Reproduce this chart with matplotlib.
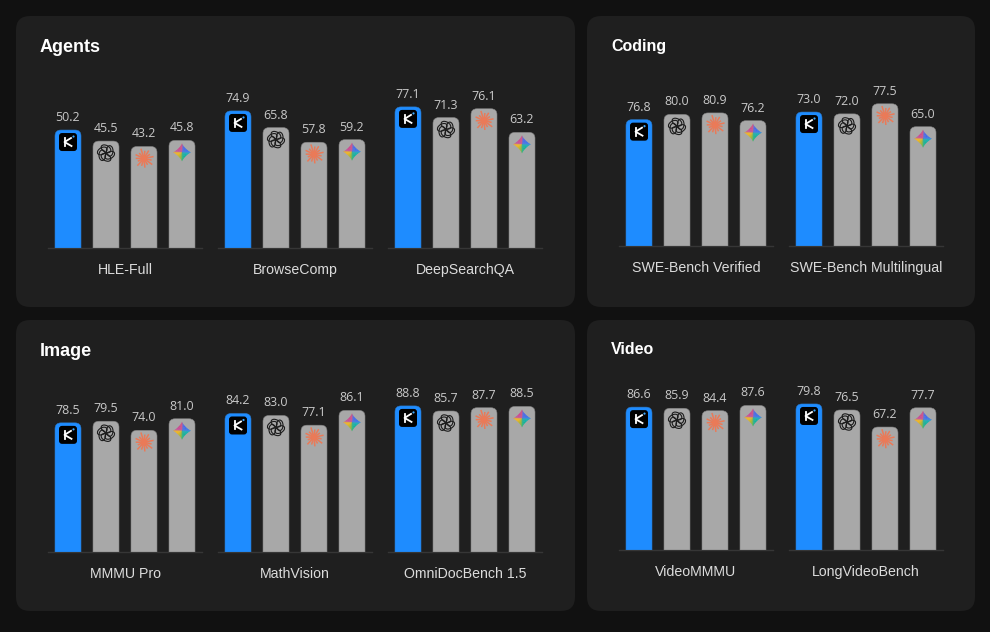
import matplotlib
matplotlib.use('Agg')
import matplotlib.pyplot as plt
import numpy as np
from matplotlib.patches import FancyBboxPatch, PathPatch, Circle, Ellipse, Polygon
from matplotlib.path import Path
from matplotlib.transforms import IdentityTransform

W, H = 990, 632

# valores por grupo: Kimi, OpenAI, Claude, Gemini
hle_full = [50.2, 45.5, 43.2, 45.8]
browsecomp = [74.9, 65.8, 57.8, 59.2]
deepsearchqa = [77.1, 71.3, 76.1, 63.2]
swe_verified = [76.8, 80.0, 80.9, 76.2]
swe_multi = [73.0, 72.0, 77.5, 65.0]
mmmu_pro = [78.5, 79.5, 74.0, 81.0]
mathvision = [84.2, 83.0, 77.1, 86.1]
omnidoc = [88.8, 85.7, 87.7, 88.5]
videommmu = [86.6, 85.9, 84.4, 87.6]
longvideo = [79.8, 76.5, 67.2, 77.7]

panel_titles = ['Agents', 'Coding', 'Image', 'Video']

BG = '#111111'
PANEL = '#1f1f1f'
BLUE = '#1e8cff'
GREY = '#a8a8a8'
EDGE = '#808080'
AXIS = '#363636'

fig = plt.figure(figsize=(W / 100, H / 100), dpi=100, facecolor=BG)
T = IdentityTransform()


def py(y):
    # pixel desde arriba -> pixel de display
    return H - y


def dibujar_panel(x0, y0, x1, y1, titulo, tx, ty, size):
    p = FancyBboxPatch((x0 + 14, py(y1) + 14), x1 - x0 - 28, y1 - y0 - 28,
                       boxstyle='round,pad=14,rounding_size=14',
                       fc=PANEL, ec='none', transform=T, zorder=0)
    fig.add_artist(p)
    fig.text(tx / W, py(ty) / H, titulo, color='white', fontsize=size,
             fontweight='bold', family='Liberation Sans', va='center', ha='left')


def barra_redonda(x0, x1, ytop, ybase, color, edge):
    r = 6
    verts = [(x0, ybase), (x0, ytop - r), (x0, ytop), (x0 + r, ytop), (x1 - r, ytop),
             (x1, ytop), (x1, ytop - r), (x1, ybase), (x0, ybase)]
    codes = [Path.MOVETO, Path.LINETO, Path.CURVE3, Path.CURVE3, Path.LINETO,
             Path.CURVE3, Path.CURVE3, Path.LINETO, Path.CLOSEPOLY]
    return PathPatch(Path(verts, codes), fc=color, ec=edge, lw=0.4, transform=T, zorder=3)


def icono_kimi(ax, cx, cy):
    s = 9
    ax.add_artist(FancyBboxPatch((cx - s + 3, cy - s + 3), 2 * s - 6, 2 * s - 6,
                                 boxstyle='round,pad=3,rounding_size=3', fc='black', ec='none',
                                 transform=T, zorder=5, clip_on=False))
    ax.plot([cx - 3.5, cx - 3.5], [cy - 4, cy + 4], color='white', lw=1.3, transform=T, zorder=6, clip_on=False)
    ax.plot([cx + 3, cx - 3.5, cx + 3.5], [cy + 4, cy, cy - 4], color='white', lw=1.3, transform=T, zorder=6, clip_on=False)
    ax.add_artist(Circle((cx + 5.5, cy + 5.5), 1.1, fc='#3fa9ff', ec='none', transform=T, zorder=6, clip_on=False))


def icono_openai(ax, cx, cy):
    for ang in range(0, 360, 60):
        a = np.radians(ang + 30)
        e = Ellipse((cx + 4.3 * np.cos(a), cy + 4.3 * np.sin(a)), 10.5, 6.6, angle=ang + 90,
                    fc='none', ec='#1c1c1c', lw=0.8, transform=T, zorder=5, clip_on=False)
        ax.add_artist(e)


def icono_claude(ax, cx, cy):
    largos = [9, 6.5, 8.5, 7, 9.5, 6.5, 8.5, 7.5, 6, 9, 7, 8.5, 6.5, 9.5, 7]
    for i, l in enumerate(largos):
        a = 2 * np.pi * i / len(largos) + 0.2
        ax.plot([cx, cx + l * np.cos(a)], [cy, cy + l * np.sin(a)], color='#ea7a58',
                lw=1.1, transform=T, zorder=5, clip_on=False)
    ax.add_artist(Circle((cx, cy), 3, fc='#ea7a58', ec='none', transform=T, zorder=5, clip_on=False))


def icono_gemini(ax, cx, cy):
    R = 9
    stops = np.array([0, 60, 90, 150, 180, 215, 270, 330, 360], dtype=float)
    rgb = np.array([[0.10, 0.50, 0.98], [0.30, 0.40, 0.92], [0.88, 0.25, 0.45], [0.78, 0.30, 0.62],
                    [0.98, 0.72, 0.10], [0.98, 0.72, 0.10], [0.12, 0.72, 0.38], [0.05, 0.70, 0.72],
                    [0.10, 0.50, 0.98]])
    for deg in range(0, 360, 6):
        t = np.radians(np.linspace(deg, deg + 7, 5))
        xs = cx + R * np.sign(np.cos(t)) * np.abs(np.cos(t)) ** 2.5
        ys = cy + R * np.sign(np.sin(t)) * np.abs(np.sin(t)) ** 2.5
        col = [np.interp(deg + 3, stops, rgb[:, k]) for k in range(3)]
        pts = np.column_stack([np.r_[cx, xs], np.r_[cy, ys]])
        ax.add_artist(Polygon(pts, fc=col, ec='none', lw=0, transform=T, zorder=5, clip_on=False))


iconos = [icono_kimi, icono_openai, icono_claude, icono_gemini]


def dibujar_grupo(xleft, ybase, nombre, valores, escala):
    # eje de 154 px de ancho; la escala (px por unidad) cambia por grupo
    alto = 170
    ax = fig.add_axes([xleft / W, py(ybase) / H, 154 / W, alto / H])
    ax.patch.set_visible(False)
    x = np.arange(len(valores))
    bars = ax.bar(x, valores, width=26 / 38, color='none', zorder=1)
    ax.set_xlim(-20 / 38, 3 + 20 / 38)
    ax.set_ylim(0, alto / escala)
    for s in ['top', 'left', 'right']:
        ax.spines[s].set_visible(False)
    ax.spines['bottom'].set_color(AXIS)
    ax.spines['bottom'].set_linewidth(1)
    ax.set_yticks([])
    ax.set_xticks([1.5], [nombre], color='#dcdcdc', fontsize=10.2, family='Liberation Sans')
    ax.tick_params(axis='x', length=0, pad=11)

    for i, (b, v) in enumerate(zip(bars, valores)):
        (px0, pyb), (px1, pyt) = ax.transData.transform([(b.get_x(), 0), (b.get_x() + b.get_width(), v)])
        color = BLUE if i == 0 else GREY
        edge = '#2a78c8' if i == 0 else EDGE
        ax.add_patch(barra_redonda(px0, px1, pyt, pyb, color, edge))
        iconos[i](ax, (px0 + px1) / 2, pyt - 12)
        ax.annotate(f'{v:.1f}', (i, v), xytext=(0, 6), textcoords='offset pixels',
                    ha='center', va='bottom', color='#c9c9c9', fontsize=8.9, family='Open Sans')


dibujar_panel(16, 16, 575, 307, panel_titles[0], 40, 47, 13)
dibujar_panel(587, 16, 975, 307, panel_titles[1], 611, 46, 11.5)
dibujar_panel(16, 320, 575, 611, panel_titles[2], 40, 351, 13)
dibujar_panel(587, 320, 975, 611, panel_titles[3], 611, 350, 11.5)

dibujar_grupo(48, 248, 'HLE-Full', hle_full, 2.35)
dibujar_grupo(218, 248, 'BrowseComp', browsecomp, 1.83)
dibujar_grupo(388, 248, 'DeepSearchQA', deepsearchqa, 1.83)
dibujar_grupo(619, 246, 'SWE-Bench Verified', swe_verified, 1.645)
dibujar_grupo(789, 246, 'SWE-Bench Multilingual', swe_multi, 1.835)
dibujar_grupo(48, 552, 'MMMU Pro', mmmu_pro, 1.645)
dibujar_grupo(218, 552, 'MathVision', mathvision, 1.645)
dibujar_grupo(388, 552, 'OmniDocBench 1.5', omnidoc, 1.645)
dibujar_grupo(619, 550, 'VideoMMMU', videommmu, 1.65)
dibujar_grupo(789, 550, 'LongVideoBench', longvideo, 1.83)

fig.savefig('out.png', dpi=100, facecolor=BG)
